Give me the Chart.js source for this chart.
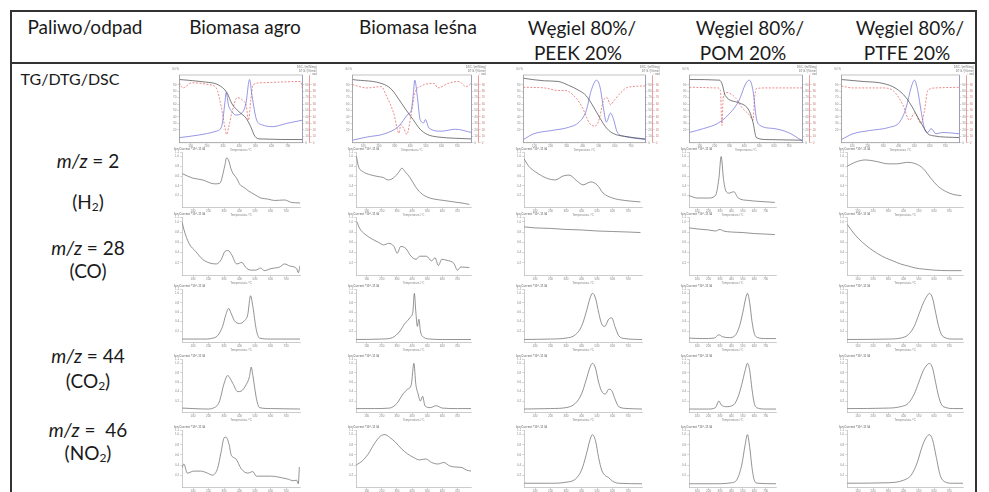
<!DOCTYPE html>
<html lang="pl">
<head>
<meta charset="utf-8">
<script src="https://cdn.jsdelivr.net/npm/chart.js@4.4.1/dist/chart.umd.min.js"></script>
<style>
  html, body { margin: 0; padding: 0; background: #fff; }
  #page { position: relative; width: 989px; height: 492px; overflow: hidden; font-family: Lato, "Open Sans", sans-serif; color: #1a1a1a; }
  .ln { position: absolute; background: #333; }
  .hd { position: absolute; font-size: 19px; line-height: 25px; text-align: center; white-space: nowrap; }
  .lbl { position: absolute; left: 13px; width: 150px; font-size: 19px; line-height: 22px; text-align: center; white-space: nowrap; }
  .lbl sub { font-size: 12px; vertical-align: -2px; }
  canvas { position: absolute; }
</style>
</head>
<body>
<div id="page">
  <div class="ln" style="left:10px;top:10px;width:966px;height:1.5px"></div>
  <div class="ln" style="left:10px;top:62px;width:966px;height:1.5px"></div>
  <div class="ln" style="left:10px;top:10px;width:1.5px;height:482px"></div>
  <div class="ln" style="left:975px;top:10px;width:1.5px;height:482px"></div>

  <div class="hd" style="left:10px;width:150px;top:14px">Paliwo/odpad</div>
  <div class="hd" style="left:170px;width:150px;top:14px">Biomasa agro</div>
  <div class="hd" style="left:343px;width:150px;top:14px">Biomasa leśna</div>
  <div class="hd" style="left:507px;width:150px;top:15px">Węgiel 80%/</div>
  <div class="hd" style="left:503px;width:150px;top:40px">PEEK 20%</div>
  <div class="hd" style="left:675px;width:150px;top:15px">Węgiel 80%/</div>
  <div class="hd" style="left:668px;width:150px;top:40px">POM 20%</div>
  <div class="hd" style="left:835px;width:150px;top:15px">Węgiel 80%/</div>
  <div class="hd" style="left:832px;width:150px;top:40px">PTFE 20%</div>

  <div class="lbl" style="top:68px;left:-5px;font-size:16px">TG/DTG/DSC</div>
  <div class="lbl" style="top:150px"><i>m/z</i> = 2</div>
  <div class="lbl" style="top:191px">(H<sub>2</sub>)</div>
  <div class="lbl" style="top:237px"><i>m/z</i> = 28</div>
  <div class="lbl" style="top:260px">(CO)</div>
  <div class="lbl" style="top:345px"><i>m/z</i> = 44</div>
  <div class="lbl" style="top:370px">(CO<sub>2</sub>)</div>
  <div class="lbl" style="top:419px"><i>m/z</i> =&nbsp; 46</div>
  <div class="lbl" style="top:442px">(NO<sub>2</sub>)</div>
</div>

<script>
// ---- data: [temperature °C, value] ----
// TG/DTG/DSC (values as % of the plot height)
const tgAgro  = [[30,98],[193,94],[269,90],[323,78],[356,60],[399,48],[443,38],[471,25],[497,10],[529,6],[790,5]];
const dscAgro = [[30,8],[149,12],[258,18],[291,25],[312,63],[319,78],[334,58],[356,48],[377,43],[410,45],[443,63],[458,93],[464,98],[479,73],[508,35],[540,28],[605,25],[692,30],[790,35]];
const dtgAgro = [[30,93],[52,85],[106,93],[215,90],[258,85],[291,53],[312,23],[323,13],[334,23],[356,48],[388,70],[421,66],[443,58],[458,35],[471,65],[486,90],[540,93],[649,94],[779,95],[790,85]];

const tgLesna  = [[30,98],[237,90],[283,82],[328,67],[373,51],[418,36],[463,21],[508,13],[576,9],[688,7],[790,6]];
const dscLesna = [[30,4],[125,9],[237,14],[328,26],[384,44],[407,51],[418,72],[429,97],[445,72],[463,36],[486,31],[497,36],[519,23],[598,18],[688,21],[790,16]];
const dtgLesna = [[30,90],[125,85],[215,87],[249,72],[294,46],[328,15],[339,28],[361,21],[377,13],[407,46],[429,77],[463,87],[553,92],[576,85],[643,92],[711,95],[756,87],[790,92]];

const tgPeek  = [[30,100],[160,96],[247,95],[312,89],[377,81],[421,73],[464,57],[508,38],[551,22],[594,14],[660,10],[790,6]];
const dscPeek = [[30,5],[95,14],[204,19],[312,24],[377,32],[421,49],[453,81],[486,97],[508,86],[529,54],[547,32],[573,46],[590,38],[616,16],[660,10],[790,5]];
const dtgPeek = [[30,86],[160,85],[247,81],[291,81],[356,70],[399,54],[443,30],[475,26],[497,32],[529,65],[551,70],[573,59],[594,65],[638,78],[681,86],[790,88]];

const tgPom  = [[30,98],[232,97],[249,92],[272,73],[363,62],[434,49],[458,32],[481,8],[553,5],[790,4]];
const dscPom = [[30,16],[125,22],[220,30],[291,43],[363,65],[410,92],[434,97],[458,81],[481,38],[505,27],[600,22],[695,16],[790,3]];
const dtgPom = [[30,86],[220,85],[239,81],[249,27],[258,70],[279,78],[339,70],[386,54],[434,43],[458,35],[469,70],[481,84],[553,85],[790,85]];

const tgPtfe  = [[30,98],[169,95],[298,92],[383,84],[447,70],[490,54],[533,35],[565,22],[587,14],[619,11],[790,8]];
const dscPtfe = [[30,5],[105,14],[212,19],[340,24],[405,32],[447,54],[480,86],[501,97],[522,81],[544,49],[565,22],[587,16],[608,22],[640,14],[683,16],[790,14]];
const dtgPtfe = [[30,88],[105,85],[298,85],[362,81],[426,59],[469,35],[501,46],[544,30],[565,49],[587,81],[640,85],[790,86]];

// MS ion currents (relative)
const h2Agro  = [[30,0.65],[96,0.56],[162,0.52],[239,0.44],[272,0.45],[305,0.81],[316,0.97],[327,0.94],[349,0.71],[382,0.55],[404,0.42],[427,0.37],[460,0.29],[493,0.23],[537,0.15],[581,0.13],[625,0.1],[691,0.11],[735,0.06],[790,0.05]];
const h2Lesna = [[32,1.0],[45,0.8],[75,0.69],[119,0.63],[175,0.59],[209,0.57],[242,0.52],[276,0.56],[310,0.67],[332,0.76],[354,0.69],[388,0.56],[421,0.39],[455,0.26],[500,0.17],[544,0.13],[611,0.1],[678,0.07],[745,0.04],[779,0.02]];
const h2Peek  = [[30,0.95],[60,0.8],[120,0.65],[180,0.55],[230,0.52],[280,0.6],[320,0.62],[370,0.5],[410,0.42],[460,0.48],[500,0.42],[540,0.25],[600,0.15],[680,0.1],[780,0.07]];
const h2Pom   = [[30,0.2],[100,0.15],[200,0.15],[260,0.2],[290,0.55],[310,1.0],[330,0.55],[350,0.3],[380,0.25],[420,0.28],[460,0.15],[550,0.1],[650,0.08],[780,0.06]];
const h2Ptfe  = [[30,0.8],[80,0.88],[150,0.93],[220,0.9],[300,0.85],[360,0.85],[420,0.88],[480,0.85],[530,0.75],[580,0.55],[630,0.38],[680,0.28],[730,0.22],[780,0.2]];

const coAgro  = [[30,0.99],[41,0.85],[74,0.58],[118,0.42],[162,0.27],[206,0.2],[250,0.18],[283,0.27],[305,0.42],[327,0.44],[349,0.36],[382,0.18],[415,0.21],[438,0.12],[471,0.06],[504,0.06],[537,0.1],[559,0.05],[603,0.09],[658,0.12],[691,0.18],[724,0.14],[768,0.09],[779,0.01],[790,0.15]];
const coLesna = [[35,1.0],[53,0.87],[87,0.76],[132,0.67],[177,0.6],[212,0.55],[245,0.58],[280,0.52],[302,0.39],[325,0.52],[359,0.48],[393,0.33],[427,0.27],[450,0.33],[495,0.33],[529,0.24],[552,0.3],[574,0.15],[597,0.27],[631,0.25],[677,0.19],[700,0.06],[722,0.12],[779,0.11]];
const coPeek  = [[30,0.9],[100,0.88],[200,0.87],[300,0.85],[400,0.84],[500,0.82],[600,0.81],[700,0.8],[780,0.79]];
const coPom   = [[30,0.88],[100,0.86],[200,0.84],[260,0.82],[300,0.85],[330,0.82],[400,0.8],[500,0.79],[600,0.77],[700,0.76],[780,0.75]];
const coPtfe  = [[30,0.95],[80,0.75],[130,0.6],[180,0.48],[230,0.38],[280,0.3],[330,0.24],[380,0.18],[430,0.14],[480,0.1],[530,0.08],[600,0.06],[700,0.05],[780,0.05]];

const row3Agro  = [[30,0.03],[150,0.03],[193,0.03],[215,0.04],[258,0.1],[291,0.3],[312,0.55],[330,0.68],[345,0.58],[367,0.42],[399,0.36],[432,0.42],[453,0.55],[471,0.95],[486,0.72],[508,0.23],[529,0.05],[600,0.03],[790,0.03]];
const row3Lesna = [[30,0.02],[200,0.03],[270,0.06],[320,0.2],[350,0.35],[370,0.42],[390,0.5],[405,0.6],[415,1.0],[425,0.6],[435,0.3],[445,0.45],[455,0.2],[480,0.06],[520,0.03],[600,0.02],[790,0.02]];
const row3Peek  = [[30,0.02],[200,0.03],[300,0.05],[360,0.12],[400,0.3],[430,0.6],[455,0.9],[470,1.0],[490,0.9],[510,0.6],[530,0.35],[550,0.3],[575,0.45],[595,0.48],[615,0.3],[640,0.1],[680,0.04],[790,0.02]];
const row3Pom   = [[30,0.05],[150,0.04],[250,0.05],[290,0.12],[320,0.08],[380,0.06],[430,0.1],[470,0.3],[500,0.6],[525,0.9],[540,1.0],[560,0.8],[580,0.4],[600,0.15],[630,0.06],[700,0.04],[790,0.04]];
const row3Ptfe  = [[30,0.02],[300,0.03],[380,0.05],[430,0.12],[470,0.3],[500,0.55],[530,0.8],[555,0.95],[570,1.0],[590,0.9],[610,0.6],[630,0.3],[650,0.12],[680,0.05],[720,0.03],[790,0.03]];

const co2Agro  = [[30,0.05],[100,0.04],[190,0.03],[230,0.05],[269,0.18],[301,0.58],[323,0.74],[356,0.58],[388,0.4],[410,0.41],[443,0.55],[464,0.72],[475,0.92],[486,0.74],[508,0.27],[529,0.06],[600,0.04],[790,0.03]];
const co2Lesna = [[30,0.04],[150,0.04],[250,0.05],[300,0.15],[340,0.35],[370,0.45],[395,0.55],[412,1.0],[425,0.55],[440,0.35],[455,0.2],[470,0.3],[485,0.1],[520,0.06],[560,0.1],[600,0.05],[700,0.04],[790,0.04]];
const co2Peek  = [[30,0.03],[200,0.04],[300,0.06],[360,0.15],[400,0.35],[430,0.65],[455,0.92],[470,1.0],[490,0.9],[510,0.6],[535,0.38],[555,0.35],[575,0.45],[595,0.42],[615,0.25],[640,0.08],[700,0.04],[790,0.03]];
const co2Pom   = [[30,0.03],[200,0.03],[260,0.06],[290,0.2],[310,0.12],[350,0.08],[420,0.12],[460,0.3],[490,0.55],[520,0.85],[540,1.0],[560,0.85],[580,0.45],[600,0.15],[630,0.05],[700,0.03],[790,0.03]];
const co2Ptfe  = [[30,0.04],[300,0.05],[380,0.08],[430,0.15],[470,0.35],[500,0.6],[530,0.85],[555,0.97],[570,1.0],[590,0.9],[610,0.6],[630,0.3],[650,0.12],[680,0.06],[720,0.04],[790,0.04]];

const no2Agro  = [[30,0.35],[41,0.42],[63,0.24],[106,0.28],[149,0.28],[193,0.24],[225,0.2],[258,0.33],[280,0.64],[301,0.94],[312,0.95],[334,0.79],[345,0.61],[377,0.52],[410,0.33],[453,0.24],[486,0.27],[508,0.18],[605,0.18],[670,0.15],[714,0.12],[746,0.09],[768,0.1],[779,0.03],[786,0.36]];
const no2Lesna = [[30,0.4],[70,0.48],[110,0.62],[150,0.82],[190,0.97],[220,1.0],[250,0.95],[290,0.85],[330,0.72],[370,0.62],[410,0.55],[450,0.5],[490,0.52],[530,0.45],[570,0.42],[610,0.45],[650,0.38],[690,0.36],[730,0.35],[760,0.3],[790,0.28]];
const no2Peek  = [[30,0.04],[200,0.04],[300,0.06],[360,0.12],[400,0.3],[430,0.6],[455,0.9],[470,1.0],[490,0.88],[510,0.55],[530,0.3],[550,0.2],[575,0.15],[600,0.08],[640,0.04],[790,0.03]];
const no2Pom   = [[30,0.03],[250,0.03],[400,0.05],[450,0.12],[490,0.4],[520,0.8],[540,1.0],[560,0.75],[580,0.35],[600,0.1],[630,0.04],[790,0.03]];
const no2Ptfe  = [[30,0.04],[300,0.05],[400,0.1],[450,0.2],[490,0.45],[520,0.75],[550,0.95],[570,1.0],[590,0.9],[615,0.55],[640,0.2],[670,0.07],[720,0.04],[790,0.04]];

// ---- layout ----
const tgCharts = [
  { left: 172, width: 146, tg: tgAgro,  dsc: dscAgro,  dtg: dtgAgro },
  { left: 345, width: 142, tg: tgLesna, dsc: dscLesna, dtg: dtgLesna },
  { left: 516, width: 145, tg: tgPeek,  dsc: dscPeek,  dtg: dtgPeek },
  { left: 682, width: 136, tg: tgPom,   dsc: dscPom,   dtg: dtgPom },
  { left: 834, width: 141, tg: tgPtfe,  dsc: dscPtfe,  dtg: dtgPtfe }
];
const msCols = [{ left: 174, width: 128 }, { left: 348, width: 125 }, { left: 516, width: 128 }, { left: 681, width: 97 }, { left: 839, width: 126 }];
const msRows = [
  { top: 147, height: 70, series: [h2Agro, h2Lesna, h2Peek, h2Pom, h2Ptfe] },
  { top: 212, height: 73, series: [coAgro, coLesna, coPeek, coPom, coPtfe] },
  { top: 284, height: 68, series: [row3Agro, row3Lesna, row3Peek, row3Pom, row3Ptfe] },
  { top: 354, height: 68, series: [co2Agro, co2Lesna, co2Peek, co2Pom, co2Ptfe] },
  { top: 425, height: 72, series: [no2Agro, no2Lesna, no2Peek, no2Pom, no2Ptfe] }
];

Chart.defaults.font.family = '"Liberation Sans", Arial, sans-serif';
Chart.defaults.font.size = 3;
Chart.defaults.color = '#888';

const page = document.getElementById('page');
const pts = a => a.map(p => ({ x: p[0], y: p[1] }));

function addCanvas(left, top, w, h) {
  const c = document.createElement('canvas');
  c.width = w; c.height = h;
  c.style.left = left + 'px'; c.style.top = top + 'px';
  c.style.width = w + 'px'; c.style.height = h + 'px';
  page.appendChild(c);
  return c;
}

const tinyGrid = { display: true, drawOnChartArea: false, tickLength: 2, color: '#aaa', lineWidth: 0.5 };
const xScale = {
  type: 'linear', min: 30, max: 790,
  grid: tinyGrid, border: { color: '#aaa', width: 0.6 },
  ticks: { stepSize: 100, padding: 0, maxRotation: 0, autoSkip: false, callback: v => (v % 100 === 0 ? v : null) },
  title: { display: true, text: 'Temperatura /°C', padding: 0 }
};

// frame + corner captions for the TG plots
const cornerText = {
  id: 'cornerText',
  afterDraw(chart, args, opts) {
    const { ctx, chartArea: a } = chart;
    ctx.save();
    ctx.strokeStyle = '#999';
    ctx.lineWidth = 0.6;
    ctx.strokeRect(a.left, a.top, a.right - a.left, a.bottom - a.top);
    ctx.font = '3px "Liberation Sans"';
    ctx.fillStyle = '#777';
    ctx.textAlign = 'left';
    ctx.fillText(opts.left, a.left - 9, a.top - 5);
    ctx.textAlign = 'right';
    opts.right.forEach((t, i) => ctx.fillText(t, chart.width - 1, a.top - 7 + i * 3.5));
    ctx.restore();
  }
};

tgCharts.forEach(c => {
  const cv = addCanvas(c.left, 64, c.width, 88);
  new Chart(cv, {
    type: 'line',
    data: {
      datasets: [
        { data: pts(c.tg), yAxisID: 'y', borderColor: '#444', borderWidth: 0.7 },
        { data: pts(c.dsc), yAxisID: 'yDsc', borderColor: '#6a6ad8', borderWidth: 0.7 },
        { data: pts(c.dtg), yAxisID: 'yDtg', borderColor: '#e35a5a', borderWidth: 0.7, borderDash: [2, 1.5] }
      ]
    },
    options: {
      responsive: false, animation: false, events: [],
      layout: { padding: { top: 11, right: 1 } },
      elements: { point: { radius: 0 }, line: { cubicInterpolationMode: 'monotone' } },
      plugins: {
        legend: { display: false }, tooltip: { enabled: false },
        cornerText: { left: 'TG /%', right: ['DSC /(mW/mg)', 'DTG /(%/min)', '↑ exo'] }
      },
      scales: {
        x: xScale,
        y: { min: 0, max: 105, grid: tinyGrid, border: { color: '#999', width: 0.6 },
             ticks: { stepSize: 10, padding: 1, callback: v => (v >= 20 && v <= 100 ? v : null) } },
        yDsc: { position: 'right', min: 0, max: 105, grid: tinyGrid, border: { color: '#6a6ad8', width: 0.6 },
                ticks: { stepSize: 10, padding: 1, callback: v => (v <= 100 ? v : null) } },
        yDtg: { position: 'right', min: 0, max: 105, grid: tinyGrid, border: { color: '#e35a5a', width: 0.6 },
                ticks: { stepSize: 10, padding: 1, color: '#c77', callback: v => (v <= 100 ? v : null) } }
      }
    },
    plugins: [cornerText]
  });
});

msRows.forEach(r => {
  r.series.forEach((s, i) => {
    const col = msCols[i];
    const cv = addCanvas(col.left, r.top, col.width, r.height);
    new Chart(cv, {
      type: 'line',
      data: { datasets: [{ data: pts(s), borderColor: '#666', borderWidth: 0.7 }] },
      options: {
        responsive: false, animation: false, events: [],
        layout: { padding: { right: 2 } },
        elements: { point: { radius: 0 }, line: { cubicInterpolationMode: 'monotone' } },
        plugins: {
          legend: { display: false }, tooltip: { enabled: false },
          title: { display: true, text: 'Ion Current *10^-11 /A', align: 'start', padding: { top: 0, bottom: 2 }, font: { size: 3 } }
        },
        scales: {
          x: xScale,
          y: { min: -0.05, max: 1.08, grid: tinyGrid, border: { color: '#aaa', width: 0.6 },
               ticks: { stepSize: 0.2, padding: 1, callback: v => (v >= 0 ? v.toFixed(1) : null) } }
        }
      }
    });
  });
});
</script>
</body>
</html>
